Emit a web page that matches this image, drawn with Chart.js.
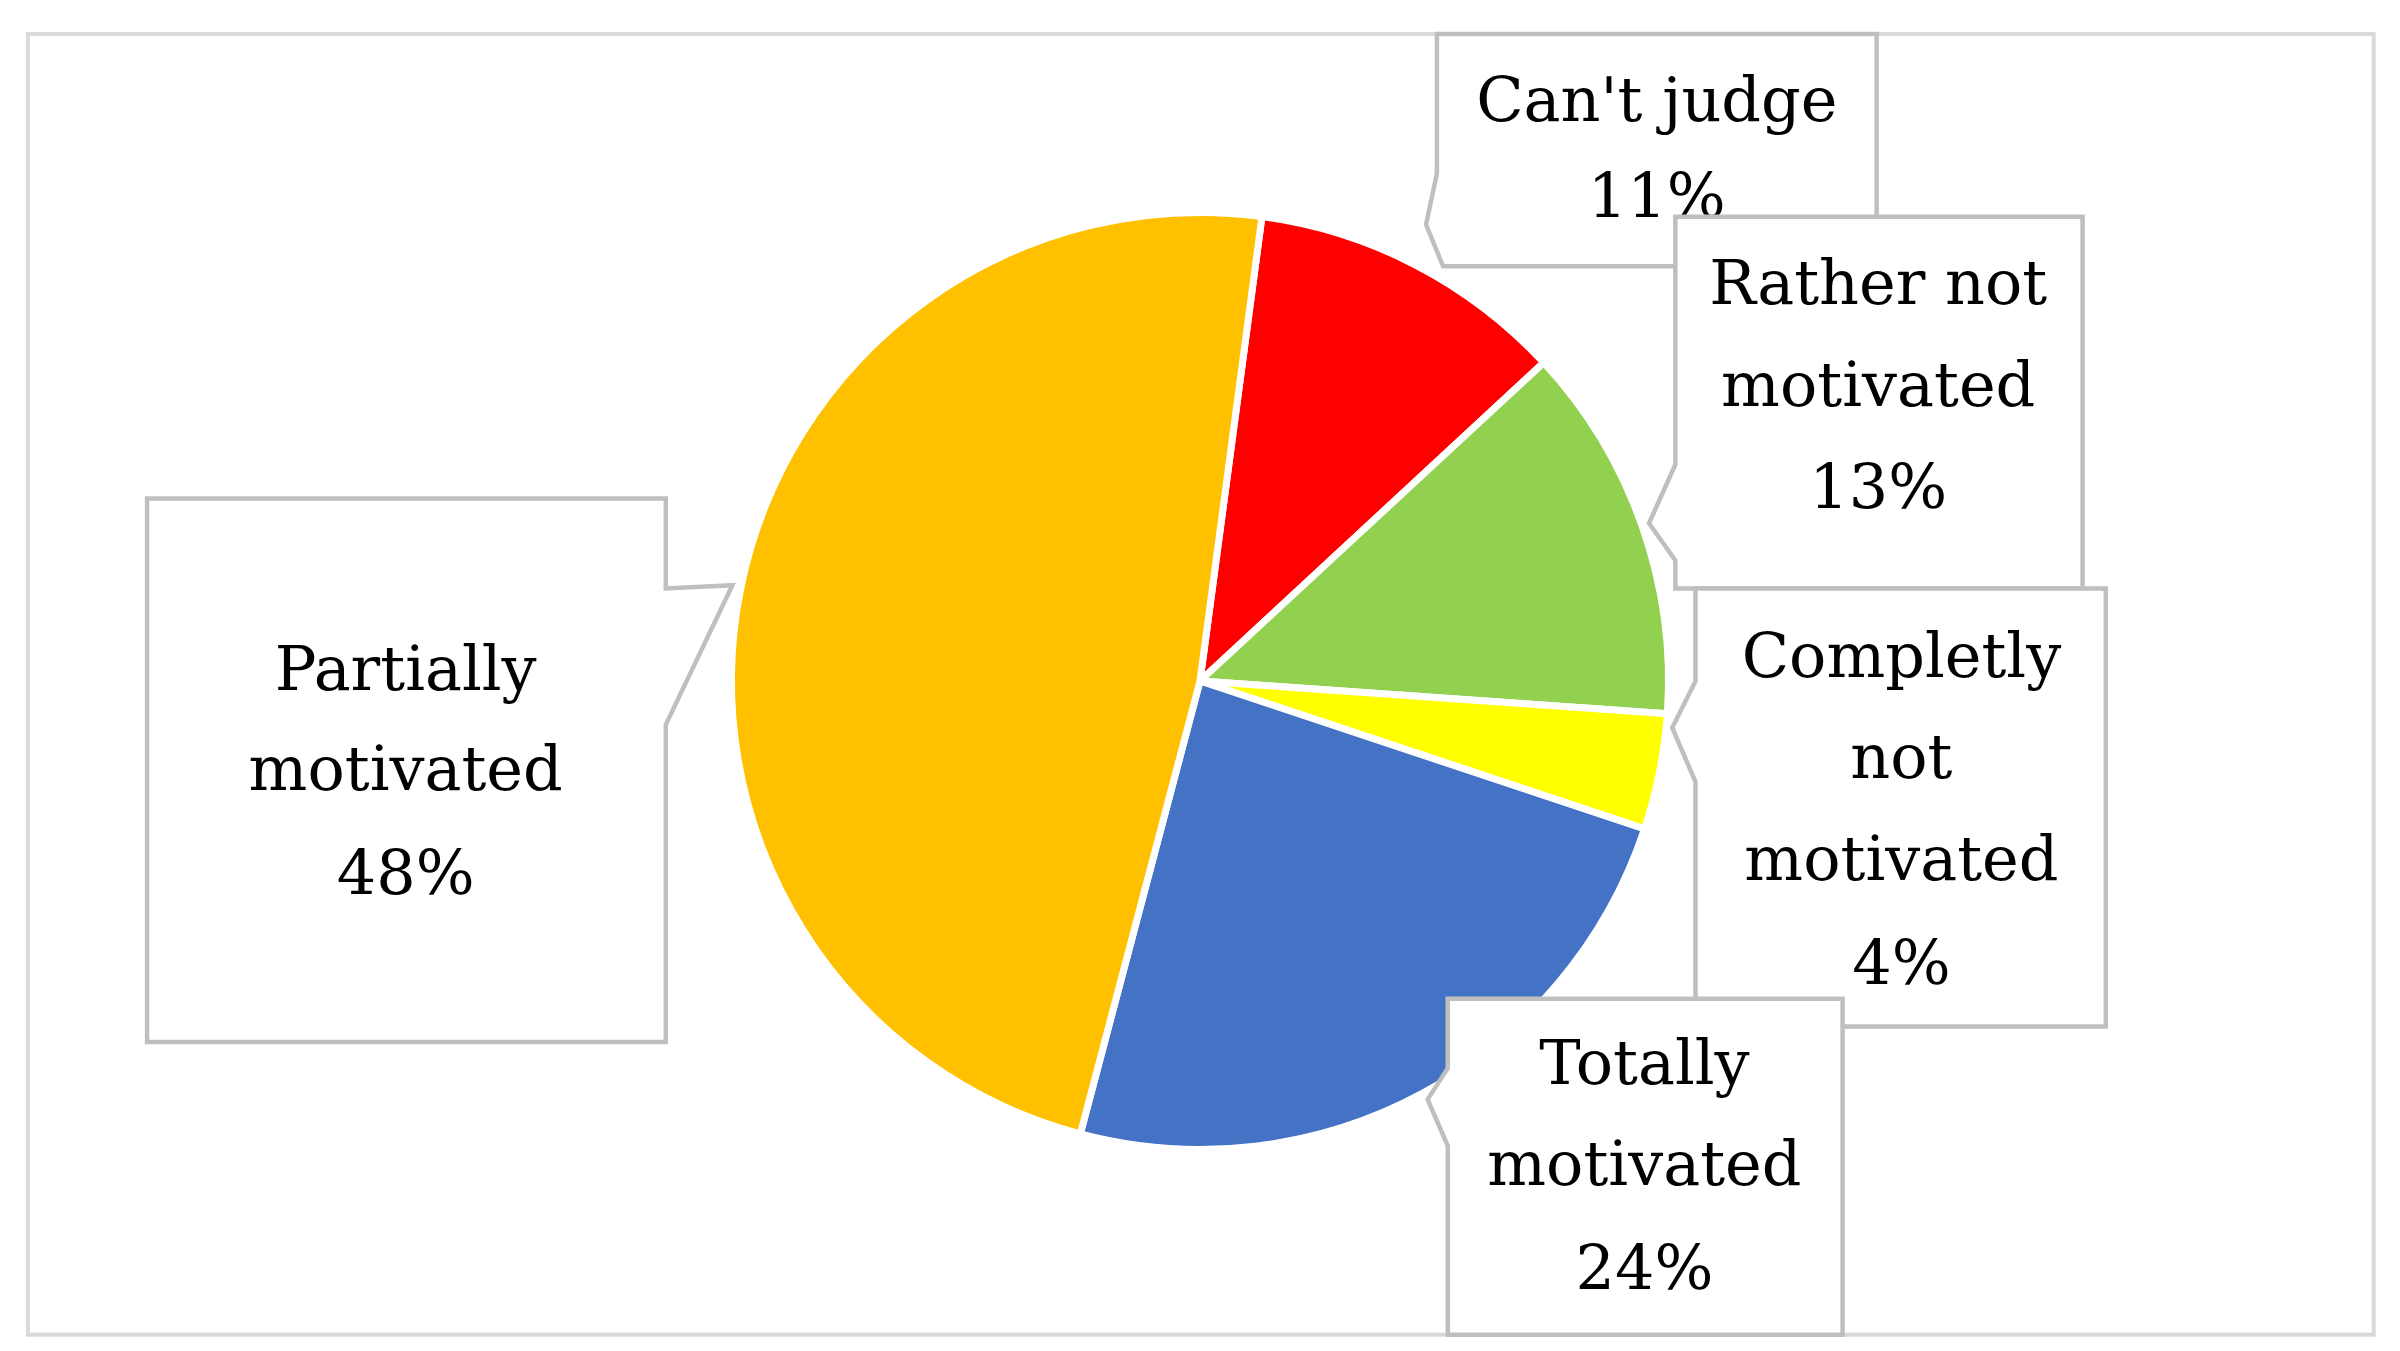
<!DOCTYPE html>
<html>
<head>
<meta charset="utf-8">
<script src="https://cdn.jsdelivr.net/npm/chart.js@4"></script>
<style>
  html, body { margin: 0; padding: 0; background: #fff; }
  #wrap { width: 2400px; height: 1351px; position: relative; }
</style>
</head>
<body>
<div id="wrap"><canvas id="pie-chart"></canvas></div>
<script>
const categories = ["Can't judge", "Rather not motivated", "Completly not motivated", "Totally motivated", "Partially motivated"];
const values = [11, 13, 4, 24, 48];
const colors = ["#FF0000", "#92D050", "#FFFF00", "#4472C4", "#FFC000"];
// label lines as shown in each callout
const labelLines = [
  ["Can't judge", "11%"],
  ["Rather not", "motivated", "13%"],
  ["Completly", "not", "motivated", "4%"],
  ["Totally", "motivated", "24%"],
  ["Partially", "motivated", "48%"]
];

// callout shapes, in reference units (scaled by S)
const S = 2400 / 1550;
const callouts = [
  { pts: [[928,22],[1212,22],[1212,172],[932,172],[921,145],[928,112]], tx: 1070, ty: [68,130] },
  { pts: [[1082,140],[1345,140],[1345,380],[1082,380],[1082,362],[1065,338],[1082,300]], tx: 1213, ty: [186,252,318] },
  { pts: [[1095,380],[1360,380],[1360,663],[1095,663],[1095,505],[1080,470],[1095,440]], tx: 1228, ty: [427,492,558,625] },
  { pts: [[935,645],[1190,645],[1190,862],[935,862],[935,740],[922,710],[935,690]], tx: 1062, ty: [690,755,822] },
  { pts: [[95,322],[430,322],[430,380],[473,378],[430,468],[430,673],[95,673]], tx: 262, ty: [435,500,567] }
];

const calloutPlugin = {
  id: 'callouts',
  afterDraw(chart) {
    const ctx = chart.ctx;
    ctx.save();
    // outer frame
    ctx.strokeStyle = "#d9d9d9";
    ctx.lineWidth = 4;
    ctx.strokeRect(18 * S, 22 * S, 1515 * S, 840 * S);
    callouts.forEach((c, i) => {
      ctx.beginPath();
      c.pts.forEach((p, j) => {
        if (j === 0) ctx.moveTo(p[0] * S, p[1] * S); else ctx.lineTo(p[0] * S, p[1] * S);
      });
      ctx.closePath();
      ctx.fillStyle = "#fff";
      ctx.fill();
      ctx.strokeStyle = "#bfbfbf";
      ctx.lineWidth = 4.5;
      ctx.stroke();
      ctx.fillStyle = "#000";
      ctx.font = "62px 'DejaVu Serif', 'Liberation Serif', serif";
      ctx.textAlign = "center";
      ctx.textBaseline = "middle";
      labelLines[i].forEach((t, k) => ctx.fillText(t, c.tx * S, c.ty[k] * S));
    });
    ctx.restore();
  }
};

new Chart(document.getElementById("pie-chart"), {
  type: 'pie',
  data: {
    labels: categories,
    datasets: [{
      data: values,
      backgroundColor: colors,
      borderColor: "#fff",
      borderWidth: 7
    }]
  },
  options: {
    responsive: true,
    maintainAspectRatio: false,
    animation: false,
    rotation: 7.6,
    layout: { padding: { left: 728, right: 728, top: 209, bottom: 198 } },
    plugins: { legend: { display: false }, tooltip: { enabled: false } }
  },
  plugins: [calloutPlugin]
});
</script>
</body>
</html>
